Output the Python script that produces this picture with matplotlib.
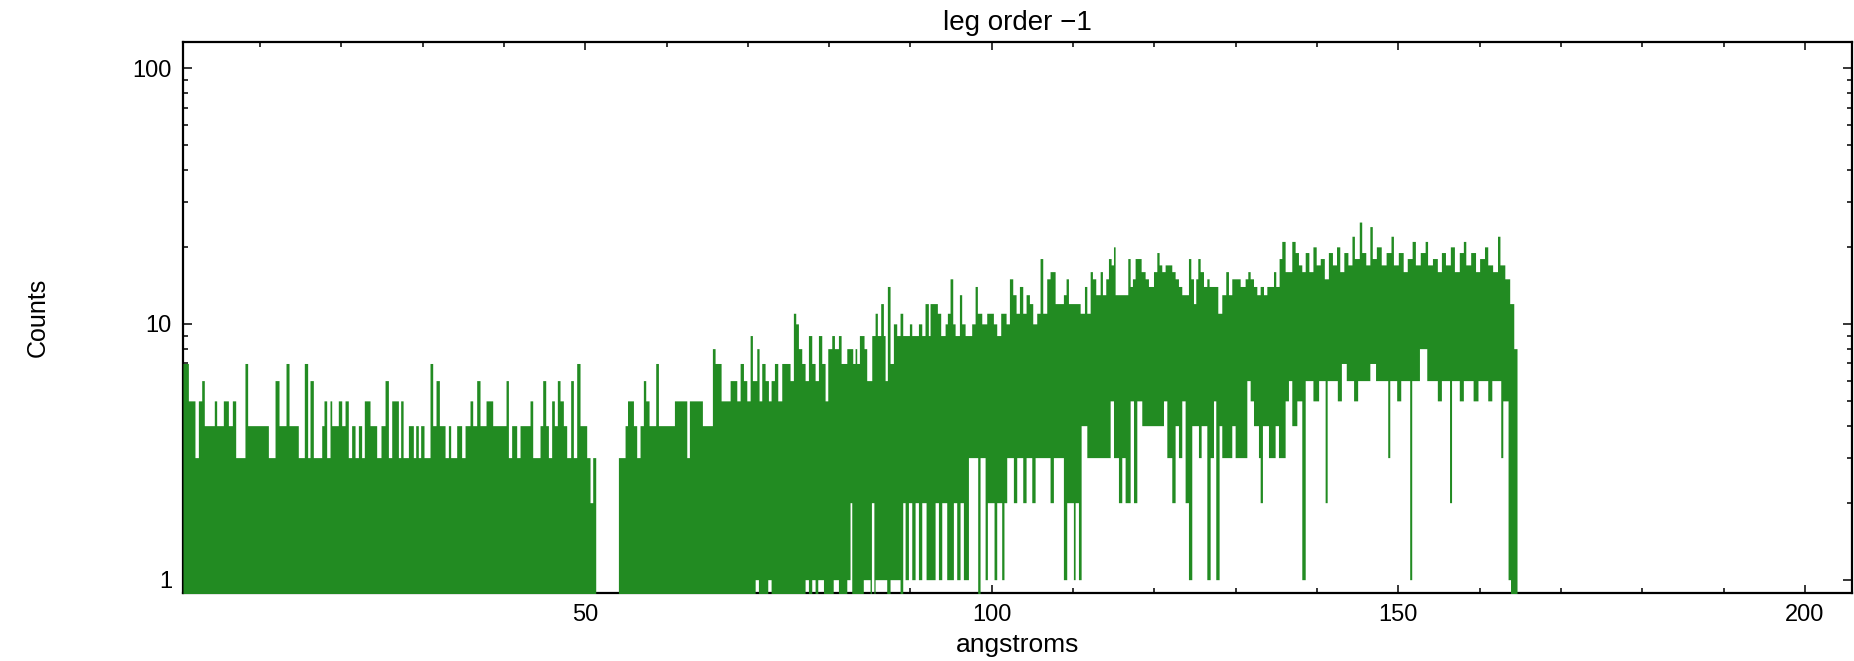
import numpy as np
import matplotlib
matplotlib.use('Agg')
import matplotlib.pyplot as plt
from matplotlib.ticker import MultipleLocator, FixedLocator, NullFormatter

# Counts spectrum, written as runs: each run starts at the given wavelength
# and holds its value until the next start.  A top of 0 marks missing data.
top_start = [
    0.53, 1.19, 2.00, 2.42, 2.83, 3.15, 4.38, 4.67, 5.49, 6.11, 6.60, 7.01,
    8.15, 8.48, 11.03, 11.85, 12.34, 13.20, 13.57, 14.71, 15.45, 15.86, 16.15,
    16.56, 17.59, 17.87, 18.20, 18.61, 18.82, 19.63, 20.05, 20.46, 20.86, 21.27,
    21.69, 22.10, 22.50, 22.83, 23.53, 24.35, 24.88, 25.38, 25.79, 26.20, 27.02,
    27.30, 27.60, 28.25, 28.86, 29.15, 29.47, 29.76, 30.17, 30.91, 31.24, 31.65,
    32.06, 32.76, 33.17, 33.45, 34.19, 34.80, 35.22, 35.83, 36.16, 36.65, 37.06,
    37.80, 38.62, 40.26, 40.55, 40.95, 41.57, 41.98, 43.21, 43.54, 44.44, 44.77,
    45.14, 45.47, 45.87, 46.20, 46.57, 46.90, 47.31, 47.72, 48.21, 48.54, 48.95,
    49.36, 50.18, 50.59, 50.92, 51.29,
    54.08, 54.90, 55.20, 55.93, 56.33, 56.74, 57.15, 57.44, 57.85, 58.67, 59.00,
    60.97, 62.49, 62.81, 64.41, 65.64, 65.97, 66.71, 67.82, 68.64, 69.05, 69.46,
    69.87, 70.28, 70.56, 71.10, 71.38, 71.71, 72.12, 72.53, 72.86, 73.27, 73.68,
    74.17, 75.19, 75.60, 75.89, 76.22, 76.63, 77.04, 77.45, 77.86, 78.27, 78.68,
    79.09, 79.50, 79.83, 80.32, 80.65, 81.14, 81.47, 82.17, 82.90, 83.19, 83.39,
    83.72, 84.29, 84.62, 85.24, 85.65, 85.93, 86.34, 86.67, 86.88, 87.16, 87.49,
    87.90, 88.31, 88.72, 89.05, 89.87, 90.16, 90.98, 91.39, 91.79, 92.20, 92.41,
    93.31, 93.72, 94.26, 94.54, 94.87, 95.20, 95.49, 96.02, 96.30, 96.72, 97.53,
    97.95, 98.23, 98.77, 99.38, 100.20, 100.61, 101.10, 101.76, 102.17, 102.58,
    102.99, 103.40, 103.81, 104.22, 104.63, 105.04, 105.53, 105.94, 106.27,
    106.76, 107.17, 107.79, 108.81, 109.14, 109.43,
    110.25, 110.87, 111.40, 111.69, 112.10, 112.38, 112.79, 113.33, 113.61,
    114.02, 114.35, 114.68, 114.97, 115.17, 116.73, 117.02, 117.30, 117.63,
    118.37, 118.86, 119.27, 119.89, 120.30, 120.58, 120.91, 121.32, 122.14,
    122.55, 122.96, 123.37, 124.19, 124.48, 124.81, 125.09, 125.34, 125.63,
    126.04, 126.45, 126.73, 127.80, 128.29, 128.78, 129.11, 129.52, 130.55,
    131.16, 131.49, 131.78, 132.19, 132.60, 133.01, 133.42, 133.83, 134.65,
    134.93, 135.34, 135.67, 136.08, 136.90, 137.31, 137.72, 138.13,
    138.55, 139.0, 139.5, 139.9, 140.4, 140.9, 141.4, 141.9, 142.4, 142.8,
    143.3, 143.8, 144.3, 144.6, 145.2, 145.5, 146.0, 146.5, 146.8, 147.3,
    147.9, 148.5, 149.1, 149.4, 150.0, 150.6, 151.1, 151.7, 152.1, 152.7,
    153.3, 153.6, 154.2, 154.8, 155.3, 155.8, 156.4, 156.9, 157.5, 158.0,
    158.3, 158.9, 159.5, 160.0, 160.6, 161.0, 161.6, 162.2, 162.5, 163.1,
    163.7, 164.2,
]
top_counts = [
    7, 5, 3, 5, 6, 4, 5, 4, 5, 4, 5, 3,
    7, 4, 3, 6, 4, 7, 4, 3, 7, 3, 6,
    3, 4, 5, 3, 5, 4, 5, 4, 5, 3, 4,
    3, 4, 3, 5, 4, 3, 4, 6, 3, 5, 3,
    5, 3, 4, 3, 4, 3, 4, 3, 7, 4, 6,
    4, 3, 4, 3, 4, 3, 4, 5, 4, 6, 4,
    5, 4, 6, 3, 4, 3, 4, 5, 3, 4, 6,
    4, 3, 5, 4, 6, 5, 4, 3, 6, 3, 7,
    4, 3, 2, 3, 0,
    3, 4, 5, 4, 3, 4, 6, 5, 4, 7, 4,
    5, 3, 5, 4, 8, 7, 5, 6, 5, 7, 6,
    5, 9, 6, 8, 5, 7, 6, 5, 6, 7, 5,
    7, 6, 11, 10, 8, 7, 6, 9, 7, 6, 9,
    7, 5, 8, 9, 8, 9, 7, 8, 7, 8, 7,
    9, 8, 6, 9, 11, 9, 12, 9, 6, 14, 7,
    10, 9, 11, 9, 10, 9, 10, 9, 12, 9, 12,
    11, 9, 10, 11, 15, 10, 9, 13, 10, 9, 10,
    14, 11, 10, 11, 10, 9, 11, 10, 15, 13,
    11, 14, 11, 13, 12, 10, 11, 18, 11,
    15, 16, 12, 13, 15, 12,
    12, 11, 14, 11, 16, 15, 13, 16, 13,
    15, 18, 17, 20, 13, 18, 14, 15, 18,
    16, 15, 14, 16, 19, 17, 16, 17, 16,
    15, 14, 13, 18, 15, 12, 15, 18, 16,
    14, 15, 14, 11, 13, 16, 13, 15, 14,
    15, 16, 15, 14, 13, 14, 13, 14, 16,
    14, 18, 21, 16, 21, 19, 17, 16,
    19, 16, 20, 17, 18, 15, 19, 17, 20, 16,
    19, 17, 22, 18, 25, 19, 17, 24, 18, 20,
    17, 19, 22, 17, 19, 16, 18, 21, 17, 19,
    21, 17, 18, 16, 19, 17, 20, 16, 19, 21,
    17, 19, 16, 18, 20, 17, 16, 22, 17, 15,
    12, 8,
]

# lower edge of the filled spectrum (0 = reaches the bottom of the plot)
bot_start = [
    0.53, 70.90, 71.30, 72.45, 72.86, 77.04, 77.45, 77.86, 78.27, 78.60, 79.30,
    80.50, 81.14, 82.17, 82.57, 82.78, 84.20, 85.03, 85.20, 85.50, 85.65, 87.08,
    87.49, 88.72, 89.05, 89.34, 89.75, 90.16, 90.57, 90.98, 91.39, 91.92, 93.03,
    93.44, 93.85, 94.46, 95.28, 95.69, 96.10, 96.51, 97.13, 98.27, 98.56, 99.18,
    99.46, 100.28, 100.61, 101.22, 101.50, 101.84, 102.66, 103.07, 103.81,
    104.22, 104.92, 105.33, 107.17, 107.58, 108.81, 109.22, 110.04, 110.25,
    110.66, 110.99, 111.69, 114.56, 114.97, 115.58, 115.99, 116.40, 117.02,
    117.43, 117.84, 118.45, 121.12, 121.53, 122.14, 122.55, 122.96, 123.37,
    123.78, 124.19, 124.60, 125.42, 125.75, 126.45, 126.86, 127.27, 127.55,
    127.96, 128.29, 129.52, 129.93, 131.37, 131.78, 132.19, 132.80, 133.01,
    133.29, 134.03, 134.85, 135.26, 136.08, 136.49, 136.90, 137.52, 138.13,
    138.55, 139.5, 140.2, 141.0, 141.25, 142.5, 143.0, 143.6, 144.5, 145.0,
    146.5, 147.2, 148.7, 148.95, 149.8, 150.3, 151.4, 151.65, 152.6, 153.5,
    154.8, 155.3, 156.3, 156.55, 157.5, 158.0, 159.2, 159.8, 161.0, 161.5,
    162.6, 162.85, 163.5, 163.8,
]
bot_counts = [
    0, 1, 0, 1, 0, 1, 0, 1, 0, 1, 0,
    1, 0, 1, 2, 0, 1, 0, 2, 0, 1, 0,
    1, 0, 2, 1, 2, 1, 2, 1, 2, 1, 2,
    1, 2, 1, 2, 1, 2, 1, 3, 0, 3, 1,
    2, 1, 2, 1, 2, 3, 2, 3, 2,
    3, 2, 3, 2, 3, 1, 2, 1, 2,
    1, 4, 3, 5, 3, 2, 3, 2, 5,
    2, 5, 4, 5, 3, 2, 4, 3, 5,
    2, 1, 4, 3, 4, 1, 3, 5, 1,
    4, 3, 4, 3, 6, 5, 4, 3, 2,
    4, 3, 4, 3, 5, 6, 4, 5, 1,
    6, 5, 6, 2, 6, 5, 7, 6, 5, 6,
    7, 6, 3, 6, 5, 6, 1, 6, 8, 6,
    5, 6, 2, 6, 5, 6, 5, 6, 5, 6,
    3, 5, 1, 0,
]
data_end = 164.6

title = 'leg order \u22121'
x_title = 'angstroms'
y_title = 'Counts'
x_range = (0.53, 205.8)
y_range = (0.887, 126.4)


def runs_at(starts, values, x):
    idx = np.searchsorted(starts, x, side='right') - 1
    return np.asarray(values, dtype=float)[idx]


edges = np.unique(np.concatenate([top_start, bot_start, [data_end]]))
left = edges[:-1]
top = runs_at(top_start, top_counts, left)
bot = runs_at(bot_start, bot_counts, left)

floor = y_range[0] * 0.5
bot = np.where(bot > 0, bot, floor)
top = np.where(top > 0, top, floor)
bot = np.where(top > floor, bot, floor)

plt.rcParams['font.family'] = ['Liberation Sans', 'DejaVu Sans']

fig = plt.figure(figsize=(18.54, 6.61), dpi=100)
ax = fig.add_axes([183 / 1854, 1 - 593 / 661, 1669 / 1854, 551 / 661])

ax.fill_between(
    edges, np.append(bot, bot[-1]), np.append(top, top[-1]),
    step='post', color='#228b22', linewidth=0, zorder=3,
)

ax.set_yscale('log')
ax.set_xlim(*x_range)
ax.set_ylim(*y_range)

ax.xaxis.set_major_locator(MultipleLocator(50))
ax.xaxis.set_minor_locator(MultipleLocator(10))
ax.set_yticks([1, 10, 100], labels=['1', '10', '100'])
minor_y = [m * d for d in (1, 10) for m in range(2, 10)]
ax.yaxis.set_minor_locator(FixedLocator(minor_y))
ax.yaxis.set_minor_formatter(NullFormatter())

ax.tick_params(which='both', direction='in', top=True, right=True,
               width=1.1, labelsize=17, pad=8)
ax.tick_params(axis='x', which='major', length=6)
ax.tick_params(axis='x', which='minor', length=3.5)
ax.tick_params(axis='y', which='major', length=6.5)
ax.tick_params(axis='y', which='minor', length=3.5)
for s in ax.spines.values():
    s.set_linewidth(1.6)

ax.set_title(title, fontsize=20, pad=9)
ax.set_xlabel(x_title, fontsize=19, labelpad=5)
ax.set_ylabel(y_title, fontsize=18)
ax.yaxis.set_label_coords(-0.080, 0.5)

fig.savefig('out.png', dpi=100)
